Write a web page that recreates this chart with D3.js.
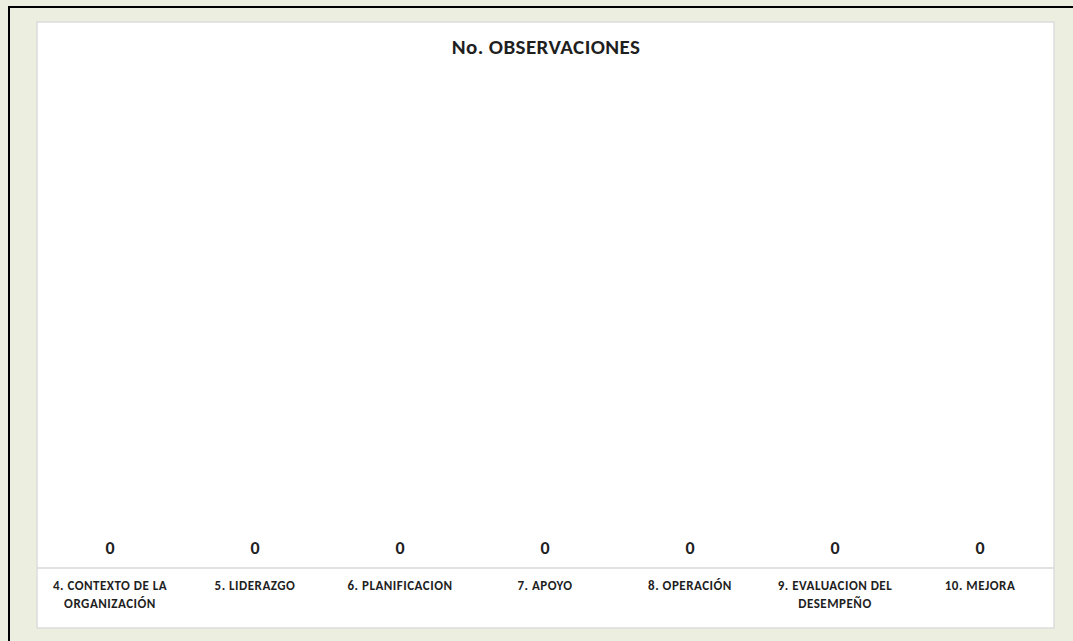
<!DOCTYPE html>
<html>
<head>
<meta charset="utf-8">
<script src="https://cdn.jsdelivr.net/npm/d3@7"></script>
<style>
  html, body { margin: 0; padding: 0; background: #eceee0; }
  svg { display: block; }
</style>
</head>
<body>
<svg id="chart"></svg>
<script>
// chart data
const categories = [
    ['4. CONTEXTO DE LA', 'ORGANIZACIÓN'],
    ['5. LIDERAZGO'],
    ['6. PLANIFICACION'],
    ['7. APOYO'],
    ['8. OPERACIÓN'],
    ['9. EVALUACION DEL', 'DESEMPEÑO'],
    ['10. MEJORA']
];
const observaciones = [0, 0, 0, 0, 0, 0, 0];
const chartTitle = 'No. OBSERVACIONES';

const width = 1073, height = 641;
const panel = { left: 37, top: 22, right: 1054, bottom: 628 };
const axisY = 568;
const plotTop = 80;
const font = "Carlito, 'Liberation Sans Narrow', 'Liberation Sans', sans-serif";

const svg = d3.select('#chart')
    .attr('width', width)
    .attr('height', height);

// outer frame (only top and left black edges show)
svg.append('rect')
    .attr('x', 0).attr('y', 0)
    .attr('width', width).attr('height', height)
    .attr('fill', '#eceee0');
svg.append('line')
    .attr('x1', 8).attr('x2', width).attr('y1', 7).attr('y2', 7)
    .attr('stroke', '#000').attr('stroke-width', 2);
svg.append('line')
    .attr('x1', 9).attr('x2', 9).attr('y1', 6).attr('y2', height)
    .attr('stroke', '#000').attr('stroke-width', 2);

// white chart panel
svg.append('rect')
    .attr('x', panel.left).attr('y', panel.top)
    .attr('width', panel.right - panel.left)
    .attr('height', panel.bottom - panel.top)
    .attr('fill', '#fff')
    .attr('stroke', '#dcdcdc')
    .attr('stroke-width', 1.5);

// title
svg.append('text')
    .attr('x', 546)
    .attr('y', 54)
    .attr('text-anchor', 'middle')
    .style('font-family', font)
    .style('font-weight', 'bold')
    .style('font-size', '21px')
    .style('letter-spacing', '0.4px')
    .style('fill', '#1f1f1f')
    .text(chartTitle);

// scales
const x = d3.scaleBand()
    .domain(d3.range(categories.length))
    .range([panel.left + 0.5, panel.right - 1.5])
    .paddingInner(0.3)
    .paddingOuter(0.15);
const y = d3.scaleLinear()
    .domain([0, Math.max(1, d3.max(observaciones))])
    .range([axisY, plotTop]);

// bars (all zero)
svg.selectAll('rect.bar')
    .data(observaciones)
    .enter()
    .append('rect')
    .attr('class', 'bar')
    .attr('x', (d, i) => x(i))
    .attr('y', d => y(d))
    .attr('width', x.bandwidth())
    .attr('height', d => y(0) - y(d))
    .attr('fill', '#4472c4');

// value labels
svg.selectAll('text.value')
    .data(observaciones)
    .enter()
    .append('text')
    .attr('class', 'value')
    .attr('x', (d, i) => x(i) + x.bandwidth() / 2)
    .attr('y', d => y(d) - 14)
    .attr('text-anchor', 'middle')
    .style('font-family', font)
    .style('font-weight', 'bold')
    .style('font-size', '18px')
    .style('fill', '#1f1f1f')
    .text(d => d);

// category axis
const xAxis = d3.axisBottom(x).tickSize(0).tickFormat('');
const axisG = svg.append('g')
    .attr('transform', `translate(0,${axisY})`)
    .call(xAxis);
axisG.select('.domain')
    .attr('stroke', '#d9d9d9')
    .attr('stroke-width', 1.5)
    .attr('d', `M${panel.left},0H${panel.right}`);

const labels = svg.selectAll('text.cat')
    .data(categories)
    .enter()
    .append('text')
    .attr('class', 'cat')
    .attr('x', (d, i) => x(i) + x.bandwidth() / 2)
    .attr('y', axisY + 22)
    .attr('text-anchor', 'middle')
    .style('font-family', font)
    .style('font-weight', 'bold')
    .style('font-size', '13px')
    .style('letter-spacing', '0.5px')
    .style('fill', '#1f1f1f');
labels.selectAll('tspan')
    .data(d => d)
    .enter()
    .append('tspan')
    .attr('x', function () { return d3.select(this.parentNode).attr('x'); })
    .attr('dy', (d, i) => i === 0 ? 0 : 18)
    .text(d => d);
</script>
</body>
</html>
